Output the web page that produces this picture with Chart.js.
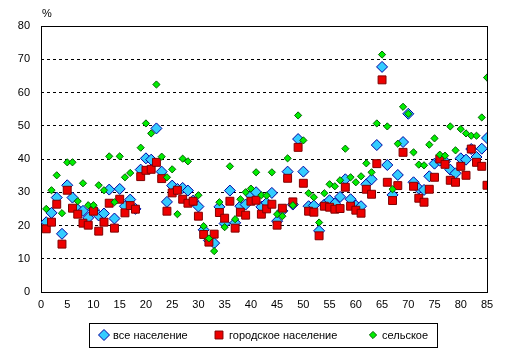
<!DOCTYPE html>
<html><head><meta charset="utf-8">
<script src="https://cdn.jsdelivr.net/npm/chart.js@4.4.1/dist/chart.umd.min.js"></script>
<style>html,body{margin:0;padding:0;background:#fff;overflow:hidden}canvas{display:block}</style>
</head><body>
<canvas id="c" width="511" height="359"></canvas>
<script>
// Region index (x) and values in percent
const regions = [1,2,3,4,5,6,7,8,9,10,11,12,13,14,15,16,17,18,19,20,21,22,23,24,25,26,27,28,29,30,
  31,32,33,34,35,36,37,38,39,40,41,42,43,44,45,46,47,48,49,50,51,52,53,54,55,56,57,58,59,60,
  61,62,63,64,65,66,67,68,69,70,71,72,73,74,75,76,77,78,79,80,81,82,83,84,85];
const total = [21.0,23.8,28.4,17.5,32.1,28.4,24.8,24.4,22.3,24.8,23.0,23.6,30.8,22.1,31.0,25.8,27.8,25.0,36.8,40.2,
  39.8,49.2,36.2,27.1,32.0,31.0,31.3,30.5,27.5,25.7,18.7,15.5,14.7,25.6,20.6,30.5,20.8,25.8,26.3,29.0,
  30.0,25.6,26.8,29.8,21.3,24.4,36.2,26.3,46.0,36.2,25.8,26.0,18.4,26.3,27.6,26.6,28.6,33.9,27.9,26.0,
  25.8,32.4,33.9,44.2,67.7,38.2,29.2,35.2,45.1,53.6,33.0,31.1,30.7,34.8,38.6,39.5,39.3,36.8,35.7,40.2,
  39.8,43.0,40.6,43.1,46.3];
const urban = [19.0,21.0,26.4,14.4,30.6,25.2,23.4,20.7,20.1,24.3,18.3,21.0,26.7,19.2,27.9,23.8,26.0,24.9,34.7,36.6,
  36.9,39.0,34.1,24.3,29.8,30.6,27.9,26.7,27.3,22.8,17.3,15.0,17.4,23.9,22.2,27.3,19.2,24.0,23.1,27.3,
  27.6,23.4,25.0,26.4,20.1,25.2,34.2,27.1,43.5,32.7,24.3,24.0,16.9,25.8,25.5,24.9,25.1,31.5,25.8,24.6,
  23.7,30.9,29.4,38.6,63.8,33.0,27.5,32.0,42.0,null,31.8,28.2,27.0,30.9,34.5,40.0,38.4,33.6,33.0,37.8,
  35.1,43.0,39.0,37.8,32.1];
const rural = [25.0,30.6,35.1,23.7,39.0,39.0,27.3,32.7,26.1,26.1,32.1,30.6,40.8,27.0,40.8,34.5,35.8,null,43.4,50.7,
  47.7,62.4,40.7,34.5,36.9,23.4,40.1,39.3,null,29.1,19.8,16.1,12.3,27.0,19.5,37.8,21.9,27.9,30.0,31.1,
  36.0,29.1,29.0,36.0,23.4,22.8,40.2,26.1,53.1,45.6,29.7,28.5,20.9,29.7,32.4,31.8,33.6,43.1,34.5,33.0,
  34.8,38.7,36.0,50.7,71.4,49.8,30.9,44.6,55.7,53.6,42.0,38.3,38.1,44.3,46.2,41.3,41.0,49.8,42.6,49.0,
  47.7,47.0,47.0,52.5,64.5];
const seriesNames = ['все население', 'городское население', 'сельское'];
const xTicks = [0,5,10,15,20,25,30,35,40,45,50,55,60,65,70,75,80,85];
const yTicks = [0,10,20,30,40,50,60,70,80];
const unitLabel = '%';

const FONT_FAMILY = '"Liberation Sans", Arial, sans-serif';
const toPoints = arr => regions.map((r, i) => ({x: r, y: arr[i]}));

const framePlugin = {
  id: 'frame',
  beforeDatasetsDraw(chart) {
    const {ctx, chartArea: a} = chart;
    ctx.save();
    ctx.strokeStyle = '#000';
    ctx.lineWidth = 1;
    ctx.strokeRect(Math.round(a.left) + 0.5, Math.round(a.top) + 0.5,
      Math.round(a.right - a.left), Math.round(a.bottom - a.top));
    ctx.restore();
  },
  afterDraw(chart) {
    const ctx = chart.ctx;
    const a = chart.chartArea;
    ctx.save();
    ctx.font = '11px ' + FONT_FAMILY;
    ctx.fillStyle = '#000';
    ctx.textBaseline = 'middle';
    ctx.textAlign = 'left';
    ctx.fillText(unitLabel, a.left + 1, 14);
    // legend
    const lx = 89, ly = 323, lw = 348, lh = 24, cy = ly + lh / 2;
    ctx.strokeStyle = '#000';
    ctx.lineWidth = 1;
    ctx.strokeRect(lx + 0.5, ly + 0.5, lw, lh);
    const slots = [{mx: 104, tx: 113}, {mx: 219, tx: 229}, {mx: 373, tx: 382}];
    chart.data.datasets.forEach((ds, i) => {
      const s = slots[i];
      ctx.fillStyle = ds.backgroundColor;
      ctx.strokeStyle = ds.borderColor;
      ctx.lineWidth = ds.borderWidth;
      Chart.helpers.drawPoint(ctx, {pointStyle: ds.pointStyle, radius: ds.pointRadius, rotation: 0, borderWidth: ds.borderWidth}, s.mx, cy);
      ctx.fillStyle = '#000';
      ctx.fillText(ds.label, s.tx, cy + 1);
    });
    ctx.restore();
  }
};

new Chart(document.getElementById('c'), {
  type: 'scatter',
  data: {
    datasets: [
      {label: seriesNames[0], data: toPoints(total), pointStyle: 'rectRot', pointRadius: 5.5,
       backgroundColor: '#33CCFF', borderColor: '#0000A0', borderWidth: 1, order: 3},
      {label: seriesNames[1], data: toPoints(urban), pointStyle: 'rect', pointRadius: 5.6,
       backgroundColor: '#EE0000', borderColor: '#800000', borderWidth: 1, order: 2},
      {label: seriesNames[2], data: toPoints(rural), pointStyle: 'rectRot', pointRadius: 3.6,
       backgroundColor: '#00EE00', borderColor: '#006000', borderWidth: 1, order: 1}
    ]
  },
  options: {
    responsive: false,
    animation: false,
    devicePixelRatio: 1,
    layout: {padding: {left: 0, right: 24, top: 26, bottom: 0}},
    plugins: {legend: {display: false}, tooltip: {enabled: false}},
    elements: {point: {hoverRadius: 0}},
    scales: {
      x: {
        type: 'linear', min: 0, max: 85,
        afterBuildTicks: s => { s.ticks = xTicks.map(v => ({value: v})); },
        afterFit: s => { s.height = 67; },
        grid: {display: false, drawTicks: false},
        border: {display: false},
        ticks: {color: '#000', padding: 6, maxRotation: 0, autoSkip: false, font: {family: FONT_FAMILY, size: 11}}
      },
      y: {
        type: 'linear', min: 0, max: 80,
        afterBuildTicks: s => { s.ticks = yTicks.map(v => ({value: v})); },
        afterFit: s => { s.width = 41; },
        grid: {color: '#000', lineWidth: 1, drawTicks: false, borderDash: [3, 3]},
        border: {display: false, dash: [3, 3]},
        ticks: {color: '#000', padding: 11, font: {family: FONT_FAMILY, size: 11}}
      }
    }
  },
  plugins: [framePlugin]
});
</script>
</body></html>
